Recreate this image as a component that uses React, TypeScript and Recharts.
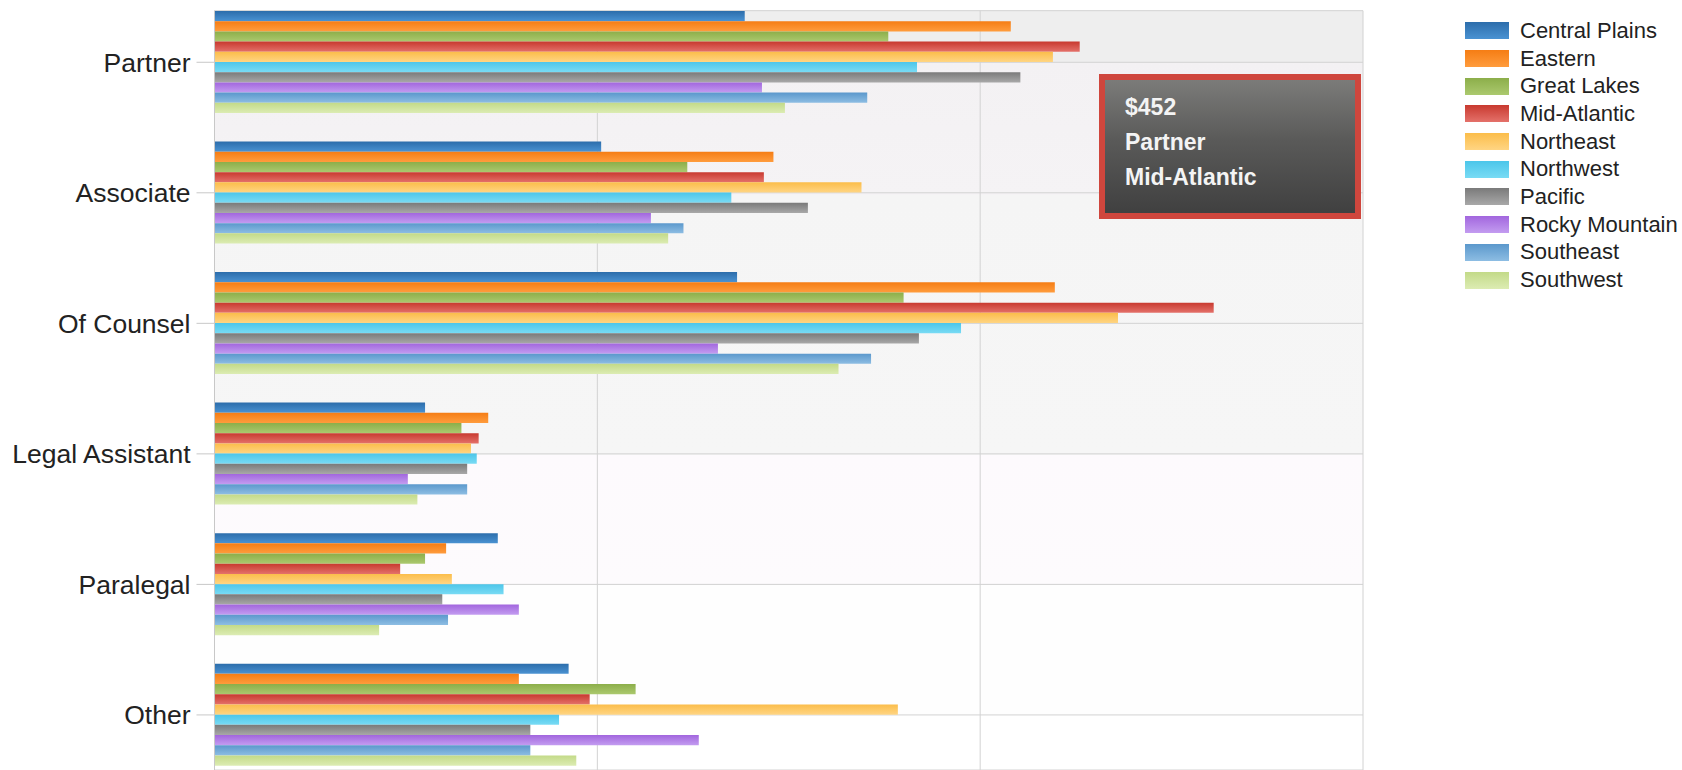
import React from "react"
import { Bar, BarChart, CartesianGrid, Legend, Tooltip, XAxis, YAxis } from "recharts"

// categories on the y axis
const roles = ["Partner", "Associate", "Of Counsel", "Legal Assistant", "Paralegal", "Other"]

// average rate per region, in the same order as roles
const centralPlains = [277, 202, 273, 110, 148, 185]
const eastern = [416, 292, 439, 143, 121, 159]
const greatLakes = [352, 247, 360, 129, 110, 220]
const midAtlantic = [452, 287, 522, 138, 97, 196]
const northeast = [438, 338, 472, 134, 124, 357]
const northwest = [367, 270, 390, 137, 151, 180]
const pacific = [421, 310, 368, 132, 119, 165]
const rockyMountain = [286, 228, 263, 101, 159, 253]
const southeast = [341, 245, 343, 132, 122, 165]
const southwest = [298, 237, 326, 106, 86, 189]

const xTicks = [0, 200, 400, 600]

const series = [
  { name: "Central Plains", values: centralPlains, top: "#2c6dab", bottom: "#4a92d2" },
  { name: "Eastern", values: eastern, top: "#f57d14", bottom: "#ff9c3d" },
  { name: "Great Lakes", values: greatLakes, top: "#8cae4a", bottom: "#abc96e" },
  { name: "Mid-Atlantic", values: midAtlantic, top: "#c8392f", bottom: "#e4716a" },
  { name: "Northeast", values: northeast, top: "#fbbd4a", bottom: "#ffd583" },
  { name: "Northwest", values: northwest, top: "#4cc6ea", bottom: "#79dbf4" },
  { name: "Pacific", values: pacific, top: "#7a7a7a", bottom: "#a8a8a8" },
  { name: "Rocky Mountain", values: rockyMountain, top: "#a266de", bottom: "#c39cf0" },
  { name: "Southeast", values: southeast, top: "#5b98cc", bottom: "#8dbde3" },
  { name: "Southwest", values: southwest, top: "#c3da88", bottom: "#dcecb3" },
]

const data = roles.map((role, i) => {
  const row: Record<string, string | number> = { role }
  series.forEach((s) => {
    row[s.name] = s.values[i]
  })
  return row
})

const font = "'Liberation Sans', Arial, sans-serif"
const gradId = (i: number) => `bar-grad-${i}`

function HoverBox({ payload, label }: any) {
  const item = (payload || []).find((p: any) => p.dataKey === "Mid-Atlantic")
  const value = item ? item.value : midAtlantic[0]
  return (
    <div
      style={{
        boxSizing: "border-box",
        width: 262,
        height: 145,
        border: "6px solid #cf463d",
        background: "linear-gradient(to bottom, #7b7b79 0%, #5a5a59 45%, #404040 100%)",
        padding: "10px 0 0 20px",
        color: "#f4f4f4",
        fontFamily: font,
        fontWeight: "bold",
        fontSize: 23,
        lineHeight: "35px",
      }}
    >
      <div>${value}</div>
      <div>{label || roles[0]}</div>
      <div>Mid-Atlantic</div>
    </div>
  )
}

function LegendList() {
  return (
    <div style={{ fontFamily: font, fontSize: 22, color: "#222" }}>
      {series.map((s, i) => (
        <div key={s.name} style={{ display: "flex", alignItems: "center", height: 27.7 }}>
          <svg width={44} height={17} style={{ display: "block" }}>
            <rect x={0} y={0} width={44} height={17} fill={`url(#${gradId(i)})`} />
          </svg>
          <span style={{ marginLeft: 11, whiteSpace: "nowrap" }}>{s.name}</span>
        </div>
      ))}
    </div>
  )
}

export default function App() {
  return (
    <div style={{ position: "absolute", left: 0, top: 0, width: 1682, height: 770, background: "#fff" }}>
      <BarChart
        width={1682}
        height={770}
        data={data}
        layout="vertical"
        margin={{ top: 10.7, right: 319, bottom: 0, left: 0 }}
        barGap={0}
        barSize={10.2}
      >
        <defs>
          {series.map((s, i) => (
            <linearGradient key={s.name} id={gradId(i)} x1="0" y1="0" x2="0" y2="1">
              <stop offset="0%" stopColor={s.top} />
              <stop offset="100%" stopColor={s.bottom} />
            </linearGradient>
          ))}
          <linearGradient id="plot-bg" x1="0" y1="0" x2="0" y2="1">
            <stop offset="0" stopColor="#eeeeee" />
            <stop offset="0.068" stopColor="#eeeeee" />
            <stop offset="0.068" stopColor="#f3f1f3" />
            <stop offset="0.243" stopColor="#f5f3f5" />
            <stop offset="0.243" stopColor="#f5f5f5" />
            <stop offset="0.585" stopColor="#f6f6f6" />
            <stop offset="0.585" stopColor="#fdfafd" />
            <stop offset="0.757" stopColor="#fdfbfd" />
            <stop offset="0.757" stopColor="#fefefe" />
            <stop offset="0.926" stopColor="#fefefe" />
            <stop offset="0.926" stopColor="#ffffff" />
            <stop offset="1" stopColor="#ffffff" />
          </linearGradient>
        </defs>
        <CartesianGrid stroke="#d2d2d2" fill="url(#plot-bg)" />
        <XAxis type="number" domain={[0, 600]} ticks={xTicks} hide />
        <YAxis
          type="category"
          dataKey="role"
          width={214.5}
          padding={{ top: -13.7, bottom: -10.2 }}
          tickSize={18}
          tickMargin={6}
          tick={{ fontSize: 26.5, fill: "#222", fontFamily: font }}
          tickLine={{ stroke: "#c8c8c8" }}
          axisLine={{ stroke: "#c8c8c8" }}
        />
        <Tooltip
          active
          defaultIndex={0}
          position={{ x: 1099, y: 74 }}
          cursor={false}
          isAnimationActive={false}
          content={<HoverBox />}
        />
        <Legend
          layout="vertical"
          align="center"
          verticalAlign="middle"
          wrapperStyle={{ left: 1465, top: 17, width: 217, height: "auto" }}
          content={() => <LegendList />}
        />
        {series.map((s, i) => (
          <Bar key={s.name} dataKey={s.name} fill={`url(#${gradId(i)})`} isAnimationActive={false} />
        ))}
      </BarChart>
    </div>
  )
}
